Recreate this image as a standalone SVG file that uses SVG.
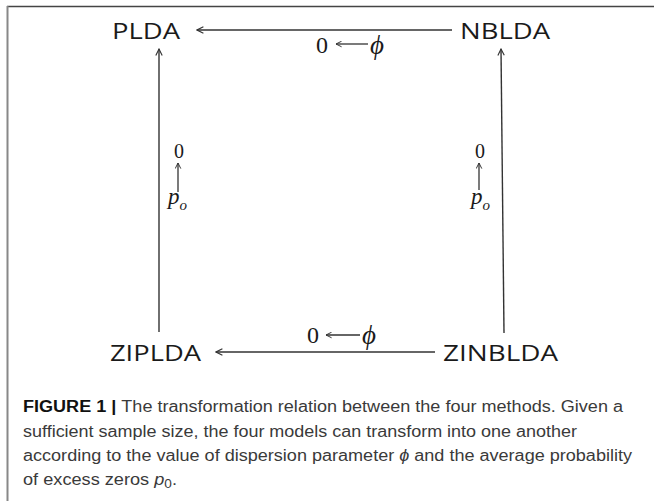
<svg xmlns="http://www.w3.org/2000/svg" width="654" height="501" viewBox="0 0 654 501">
<defs>
<style>
.node{font-family:"Open Sans","Liberation Sans",sans-serif;font-size:22.5px;fill:#1a1a1a}
.math{font-family:"Liberation Serif","DejaVu Serif",serif;fill:#1a1a1a}
.it{font-style:italic}
.conn{stroke:#333;stroke-width:1.4;fill:none}
.small{stroke:#333;stroke-width:1.3;fill:none}
.cap{font-family:"Liberation Sans","Arial",sans-serif;font-size:16px;fill:#3a3a3a}
.capb{font-weight:bold;fill:#111}
</style>
<marker id="ah" viewBox="0 0 10 10" refX="9" refY="5" markerWidth="8" markerHeight="8" markerUnits="userSpaceOnUse" orient="auto">
<path d="M1,1 L9,5 L1,9" fill="none" stroke="#333" stroke-width="1.4"/>
</marker>
<marker id="ahs" viewBox="0 0 10 10" refX="9" refY="5" markerWidth="7" markerHeight="7" markerUnits="userSpaceOnUse" orient="auto">
<path d="M1,1 L9,5 L1,9" fill="none" stroke="#333" stroke-width="1.4"/>
</marker>
</defs>
<rect width="654" height="501" fill="#fff"/>
<line x1="7" y1="6.5" x2="654" y2="6.5" stroke="#444" stroke-width="1.5"/>
<line x1="7.5" y1="6" x2="7.5" y2="501" stroke="#888" stroke-width="2"/>

<g id="PLDA"><text class="node" x="112" y="39" textLength="68" lengthAdjust="spacingAndGlyphs">PLDA</text></g>
<g id="NBLDA"><text class="node" x="460" y="39" textLength="90" lengthAdjust="spacingAndGlyphs">NBLDA</text></g>
<g id="ZIPLDA"><text class="node" x="110" y="361" textLength="91" lengthAdjust="spacingAndGlyphs">ZIPLDA</text></g>
<g id="ZINBLDA"><text class="node" x="443" y="361" textLength="115" lengthAdjust="spacingAndGlyphs">ZINBLDA</text></g>

<g id="connectors">
<line class="conn" x1="452" y1="30" x2="197" y2="30" marker-end="url(#ah)"/>
<line class="conn" x1="435" y1="352" x2="216" y2="352" marker-end="url(#ah)"/>
<line class="conn" x1="159" y1="332" x2="159" y2="49" marker-end="url(#ah)"/>
<line class="conn" x1="504" y1="333" x2="501" y2="49" marker-end="url(#ah)"/>
</g>

<g id="labels">
<text class="math" x="316" y="53" font-size="24">0</text>
<line class="small" x1="368" y1="44" x2="336" y2="44" marker-end="url(#ahs)"/>
<text class="math it" x="370" y="54" font-size="27">ϕ</text>

<text class="math" x="307" y="343" font-size="24">0</text>
<line class="small" x1="360" y1="335" x2="326" y2="335" marker-end="url(#ahs)"/>
<text class="math it" x="362" y="344" font-size="27">ϕ</text>

<text class="math" x="179" y="158" font-size="20" text-anchor="middle">0</text>
<line class="small" x1="178" y1="192" x2="178" y2="163" marker-end="url(#ahs)"/>
<text class="math it" x="168" y="204" font-size="23">p<tspan font-size="15" dy="6">o</tspan></text>

<text class="math" x="480" y="158" font-size="20" text-anchor="middle">0</text>
<line class="small" x1="479" y1="190" x2="479" y2="163" marker-end="url(#ahs)"/>
<text class="math it" x="471" y="204" font-size="23">p<tspan font-size="15" dy="6">o</tspan></text>
</g>

<g id="caption">
<text class="cap" x="23" y="412" textLength="600" lengthAdjust="spacingAndGlyphs"><tspan class="capb">FIGURE 1 | </tspan>The transformation relation between the four methods. Given a</text>
<text class="cap" x="23" y="437" textLength="554" lengthAdjust="spacingAndGlyphs">sufficient sample size, the four models can transform into one another</text>
<text class="cap" x="23" y="461" textLength="609" lengthAdjust="spacingAndGlyphs">according to the value of dispersion parameter <tspan font-style="italic">ϕ</tspan> and the average probability</text>
<text class="cap" x="23" y="485" textLength="154" lengthAdjust="spacingAndGlyphs">of excess zeros <tspan font-style="italic">p</tspan><tspan font-size="12" dy="3">0</tspan><tspan dy="-3">.</tspan></text>
</g>
</svg>
